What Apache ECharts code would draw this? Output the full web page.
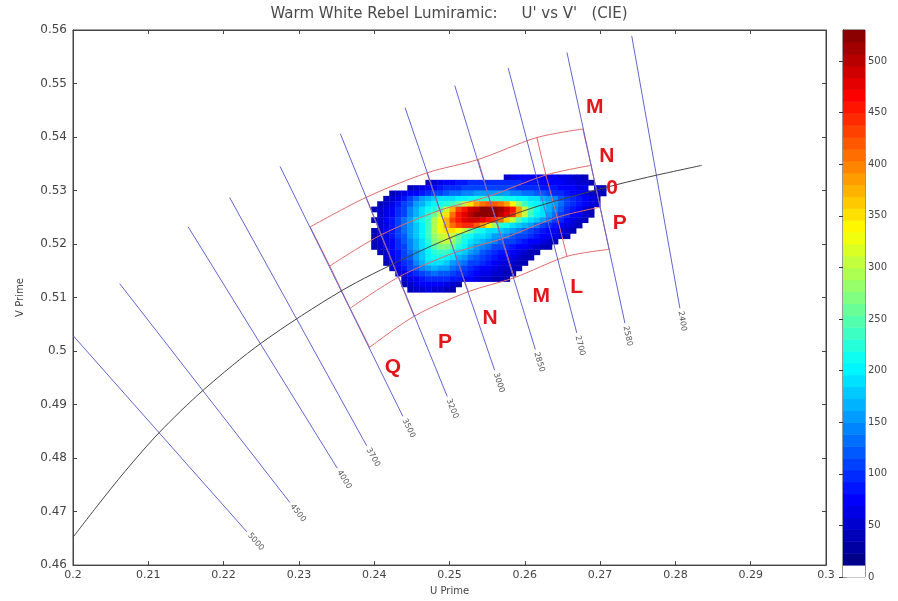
<!DOCTYPE html>
<html>
<head>
<meta charset="utf-8">
<title>Warm White Rebel Lumiramic</title>
<script src="https://cdn.jsdelivr.net/npm/echarts@6/dist/echarts.min.js"></script>
<style>
  html, body { margin: 0; padding: 0; background: #ffffff; }
  #chart { width: 898px; height: 601px; }
</style>
</head>
<body>
<div id="chart"></div>
<script>
// ---- chromaticity histogram (CIE 1976 u'v'), counts per bin ----
const uBinStart = 0.2400;   // centre of column 0
const uBinStep = 0.0008;
const vBinStart = 0.5325;   // centre of row 0 (top row)
const vBinStep = 0.001;

// first occupied column of each row
const rowFirstCol = [22, 9, 6, 3, 2, 1, 0, 1, 0, 1, 0, 0, 0, 0, 1, 2, 2, 3, 4, 5, 5, 6];

// counts along each row, starting at rowFirstCol
const rowCounts = [
  [50,60,70,70,80,70,70,60,70,60,60,50,50,40],
  [40,50,60,70,80,90,90,100,100,100,100,100,100,100,100,100,90,90,90,80,80,70,70,60,60,50,50,40],
  [40,50,60,70,80,90,95,100,100,105,105,110,110,110,110,110,105,105,100,100,95,95,90,90,85,80,75,70,65,60,0,50,40],
  [40,50,60,70,80,90,100,105,110,120,130,135,140,145,150,150,150,150,150,150,145,140,135,130,125,120,110,100,95,90,80,70,60,50,45,40],
  [40,50,65,85,105,130,150,165,175,185,190,195,200,205,210,215,220,220,220,220,215,210,205,200,195,185,170,155,140,125,110,95,85,70,60,50],
  [40,50,65,85,105,125,150,170,185,200,210,220,235,260,300,350,390,410,420,420,410,390,340,280,240,215,200,185,170,150,130,110,95,85,70,60,50],
  [40,50,60,75,95,115,140,165,190,210,230,250,300,380,430,460,490,505,520,530,525,515,490,450,390,310,250,215,195,170,145,120,100,85,70,55,45],
  [50,60,75,95,115,140,165,195,220,260,300,350,410,450,480,505,520,530,530,520,505,480,440,380,300,240,205,185,160,135,115,95,80,70,55,45],
  [40,55,70,90,110,135,160,185,210,240,290,330,380,430,460,480,490,490,480,460,440,410,360,300,250,215,195,175,150,130,110,95,80,65,55,45],
  [50,65,85,105,130,155,180,205,240,290,330,370,410,430,440,440,420,390,340,280,230,210,195,180,165,150,130,115,100,90,75,65,55,45],
  [40,55,70,90,110,130,155,180,205,240,290,330,350,350,330,300,260,230,210,195,185,175,165,155,140,125,110,100,90,80,70,60,50,45],
  [40,50,65,85,105,125,150,175,200,235,280,310,320,300,260,230,210,195,185,175,160,150,140,125,115,105,95,90,80,70,60,50,40],
  [40,50,60,80,100,120,145,170,195,225,265,290,300,280,245,215,195,180,165,150,140,125,115,105,95,90,80,70,60,50,40],
  [40,50,60,75,95,115,140,165,190,215,250,270,275,255,225,200,180,160,145,130,115,105,95,90,80,70,65,55,45,40],
  [45,55,70,90,110,130,155,180,205,225,240,235,215,195,175,155,140,125,110,100,90,85,75,65,55,45,40],
  [50,65,85,105,125,150,175,200,210,215,205,190,170,150,135,120,110,100,90,80,70,60,50,45,40],
  [45,60,75,95,115,140,165,185,195,195,180,160,145,130,115,105,95,85,75,65,55,50,45,40],
  [50,65,85,105,125,145,160,165,160,150,135,120,110,100,90,80,70,60,55,50,45,40],
  [50,65,85,100,115,125,130,125,120,110,100,95,85,75,65,60,55,50,45,40],
  [50,60,75,85,95,100,100,95,90,85,80,70,65,55,50,45,40,40],
  [45,55,65,70,75,75,70,60,50,40],
  [40,50,55,60,55,50,45,40]
];

// colour scale: white for the lowest band, jet above it
const colorMax = 530;
const colorBands = 46;
const colorTicks = [0, 50, 100, 150, 200, 250, 300, 350, 400, 450, 500];

// ---- Planckian locus ----
const locusU = [0.2000,0.2033,0.2069,0.2114,0.2173,0.2251,0.2357,0.2440,0.2505,0.2560,0.2625,0.2722,0.2776,0.2835];
const locusV = [0.4652,0.4712,0.4775,0.4847,0.4927,0.5016,0.5113,0.5173,0.5214,0.5243,0.5274,0.5311,0.5329,0.5347];

// ---- isotemperature lines (K), upper and lower end points ----
const isoCCT = ['5000','4500','4000','3700','3500','3200','3000','2850','2700','2580','2400'];
const isoTop = [[0.2000,0.5029],[0.2062,0.5126],[0.2153,0.5232],[0.2208,0.5287],[0.2275,0.5345],[0.2355,0.5406],
                [0.2441,0.5455],[0.2507,0.5496],[0.2578,0.5529],[0.2656,0.5558],[0.2742,0.5589]];
const isoBottom = [[0.2231,0.4662],[0.2288,0.4717],[0.2351,0.4781],[0.2390,0.4823],[0.2438,0.4878],[0.2497,0.4915],
                   [0.2560,0.4964],[0.2614,0.5003],[0.2669,0.5034],[0.2733,0.5052],[0.2806,0.5080]];

// ---- bin boxes: corner points, one row per boundary arc (top to bottom) ----
const binArcs = [
  [[0.2315,0.5232],[0.2389,0.5287],[0.2470,0.5333],[0.2538,0.5358],[0.2616,0.5399],[0.2677,0.5415]],
  [[0.2341,0.5159],[0.2409,0.5217],[0.2487,0.5263],[0.2552,0.5289],[0.2628,0.5329],[0.2688,0.5347]],
  [[0.2368,0.5080],[0.2432,0.5138],[0.2507,0.5184],[0.2570,0.5210],[0.2643,0.5250],[0.2700,0.5269]],
  [[0.2394,0.5007],[0.2453,0.5065],[0.2525,0.5111],[0.2586,0.5137],[0.2656,0.5177],[0.2712,0.5190]]
];

// bin names and where they are written
const binLetters = ['Q','P','N','M','L','M','N','0','P'];
const binLetterPos = [[0.2425,0.4970],[0.2494,0.5016],[0.2554,0.5062],[0.2622,0.5102],[0.2669,0.5120],
                      [0.2693,0.5455],[0.2709,0.5364],[0.2716,0.5305],[0.2726,0.5239]];

// ---------------------------------------------------------------------
function jetRGB(t) {
  const c = x => Math.max(0, Math.min(1, x));
  return [c(1.5 - Math.abs(4 * t - 3)), c(1.5 - Math.abs(4 * t - 2)), c(1.5 - Math.abs(4 * t - 1))];
}
function bandColor(k) {
  if (k <= 0) return '#ffffff';
  const rgb = jetRGB((k - 0.5) / (colorBands - 1)).map(x => Math.round(x * 255));
  return 'rgb(' + rgb.join(',') + ')';
}
const bandWidth = colorMax / colorBands;
function countColor(val) {
  return bandColor(Math.min(colorBands - 1, Math.floor(val / bandWidth)));
}

const heatData = [];
rowCounts.forEach((row, j) => {
  row.forEach((n, k) => {
    if (n > 0) {
      const col = rowFirstCol[j] + k;
      heatData.push([uBinStart + col * uBinStep, vBinStart - j * vBinStep, n]);
    }
  });
});

const FONT = '"DejaVu Sans", Arial, sans-serif';

const boxSeries = [];
binArcs.forEach(arc => {
  boxSeries.push({
    type: 'line', xAxisIndex: 0, yAxisIndex: 0, z: 3, silent: true,
    symbol: 'none', smooth: 0.3, data: arc,
    lineStyle: { color: '#e06a6a', width: 1 }
  });
});
for (let c = 0; c < binArcs[0].length; c++) {
  boxSeries.push({
    type: 'line', xAxisIndex: 0, yAxisIndex: 0, z: 3, silent: true,
    symbol: 'none', data: binArcs.map(a => a[c]),
    lineStyle: { color: '#e06a6a', width: 1 }
  });
}

const chart = echarts.init(document.getElementById('chart'), null, { renderer: 'canvas' });

const axisLineStyle = { color: '#444', width: 1 };

chart.setOption({
  animation: false,
  backgroundColor: '#ffffff',
  title: {
    text: "Warm White Rebel Lumiramic:     U' vs V'   (CIE)",
    left: 'center', top: 7, padding: 0,
    textStyle: { fontFamily: FONT, fontSize: 15, fontWeight: 'normal', color: '#4a4a4a' }
  },
  grid: [
    { left: 73, right: 72, top: 30, bottom: 24, show: true, borderColor: '#444', borderWidth: 1, backgroundColor: '#fff' },
    { left: 843, width: 22, top: 30, bottom: 24, show: true, borderColor: '#333', borderWidth: 1 }
  ],
  xAxis: [
    {
      gridIndex: 0, type: 'value', min: 0.2, max: 0.3, interval: 0.01, position: 'bottom',
      name: 'U Prime', nameLocation: 'middle', nameGap: 14,
      nameTextStyle: { fontFamily: FONT, fontSize: 10, color: '#444' },
      axisLine: { show: true, lineStyle: axisLineStyle },
      axisTick: { show: true, inside: true, length: 4, lineStyle: axisLineStyle },
      axisLabel: { fontFamily: FONT, fontSize: 11, color: '#444', margin: 5 },
      splitLine: { show: false }
    },
    {
      gridIndex: 0, type: 'value', min: 0.2, max: 0.3, interval: 0.01, position: 'top',
      axisLine: { show: true, lineStyle: axisLineStyle },
      axisTick: { show: true, inside: true, length: 4, lineStyle: axisLineStyle },
      axisLabel: { show: false }, splitLine: { show: false }
    },
    { gridIndex: 1, type: 'value', min: 0, max: 1, show: false }
  ],
  yAxis: [
    {
      gridIndex: 0, type: 'value', min: 0.46, max: 0.56, interval: 0.01, position: 'left',
      name: 'V Prime', nameLocation: 'middle', nameGap: 48, nameRotate: 90,
      nameTextStyle: { fontFamily: FONT, fontSize: 10, color: '#444' },
      axisLine: { show: true, lineStyle: axisLineStyle },
      axisTick: { show: true, inside: true, length: 4, lineStyle: axisLineStyle },
      axisLabel: { fontFamily: FONT, fontSize: 12, color: '#444', margin: 6 },
      splitLine: { show: false }
    },
    {
      gridIndex: 0, type: 'value', min: 0.46, max: 0.56, interval: 0.01, position: 'right',
      axisLine: { show: true, lineStyle: axisLineStyle },
      axisTick: { show: true, inside: true, length: 4, lineStyle: axisLineStyle },
      axisLabel: { show: false }, splitLine: { show: false }
    },
    {
      gridIndex: 1, type: 'value', min: 0, max: colorMax, interval: 50, position: 'right',
      axisLine: { show: true, lineStyle: { color: '#333' } },
      axisTick: { show: true, inside: true, length: 4, lineStyle: { color: '#333' } },
      axisLabel: {
        fontFamily: FONT, fontSize: 10, color: '#444', margin: 3, showMaxLabel: false,
        formatter: v => (colorTicks.indexOf(v) >= 0 ? String(v) : '')
      },
      splitLine: { show: false }
    },
    {
      gridIndex: 1, type: 'value', min: 0, max: colorMax, interval: 50, position: 'left',
      axisLine: { show: true, lineStyle: { color: '#333' } },
      axisTick: { show: true, inside: true, length: 4, lineStyle: { color: '#333' } },
      axisLabel: { show: false }, splitLine: { show: false }
    }
  ],
  series: [
    // histogram cells
    {
      type: 'custom', xAxisIndex: 0, yAxisIndex: 0, z: 1, silent: true, clip: true,
      data: heatData,
      encode: { x: 0, y: 1 },
      renderItem: (params, api) => {
        const u = api.value(0), v = api.value(1);
        const p0 = api.coord([u - uBinStep / 2, v + vBinStep / 2]);
        const p1 = api.coord([u + uBinStep / 2, v - vBinStep / 2]);
        return {
          type: 'rect',
          shape: { x: p0[0], y: p0[1], width: p1[0] - p0[0] + 0.4, height: p1[1] - p0[1] + 0.4 },
          style: { fill: countColor(api.value(2)) }
        };
      }
    },
    ...boxSeries,
    // isotemperature lines with their CCT labels
    {
      type: 'custom', xAxisIndex: 0, yAxisIndex: 0, z: 4, silent: true, clip: false,
      data: isoCCT.map((t, i) => [isoTop[i][0], isoTop[i][1], isoBottom[i][0], isoBottom[i][1], i]),
      encode: { x: [0, 2], y: [1, 3] },
      renderItem: (params, api) => {
        const a = api.coord([api.value(0), api.value(1)]);
        const b = api.coord([api.value(2), api.value(3)]);
        const ang = Math.atan2(b[1] - a[1], b[0] - a[0]);
        return {
          type: 'group',
          children: [
            { type: 'line', shape: { x1: a[0], y1: a[1], x2: b[0], y2: b[1] },
              style: { stroke: '#6464d2', lineWidth: 1 } },
            { type: 'text', x: b[0] + 3 * Math.cos(ang), y: b[1] + 3 * Math.sin(ang), rotation: -ang,
              style: { text: isoCCT[api.value(4)], fill: '#555', fontSize: 8, fontFamily: FONT,
                       align: 'left', verticalAlign: 'middle' } }
          ]
        };
      }
    },
    // Planckian locus
    {
      type: 'line', xAxisIndex: 0, yAxisIndex: 0, z: 5, silent: true, symbol: 'none', smooth: 0.3,
      data: locusU.map((u, i) => [u, locusV[i]]),
      lineStyle: { color: '#444', width: 1 }
    },
    // bin names
    {
      type: 'custom', xAxisIndex: 0, yAxisIndex: 0, z: 6, silent: true, clip: false,
      data: binLetterPos.map((p, i) => [p[0], p[1], i]),
      encode: { x: 0, y: 1 },
      renderItem: (params, api) => {
        const p = api.coord([api.value(0), api.value(1)]);
        return {
          type: 'text', x: p[0], y: p[1],
          style: { text: binLetters[api.value(2)], fill: '#e3161b', fontSize: 21, fontWeight: 'bold',
                   fontFamily: '"Liberation Sans", Arial, sans-serif', align: 'center', verticalAlign: 'middle' }
        };
      }
    },
    // colour bar
    {
      type: 'custom', xAxisIndex: 2, yAxisIndex: 2, z: 1, silent: true,
      data: Array.from({ length: colorBands }, (_, k) => [k]),
      encode: { y: 0 },
      renderItem: (params, api) => {
        const k = api.value(0);
        const p0 = api.coord([0, (k + 1) * bandWidth]);
        const p1 = api.coord([1, k * bandWidth]);
        return {
          type: 'rect',
          shape: { x: p0[0], y: p0[1], width: p1[0] - p0[0], height: p1[1] - p0[1] + 0.5 },
          style: { fill: bandColor(k) }
        };
      }
    }
  ]
});
</script>
</body>
</html>
